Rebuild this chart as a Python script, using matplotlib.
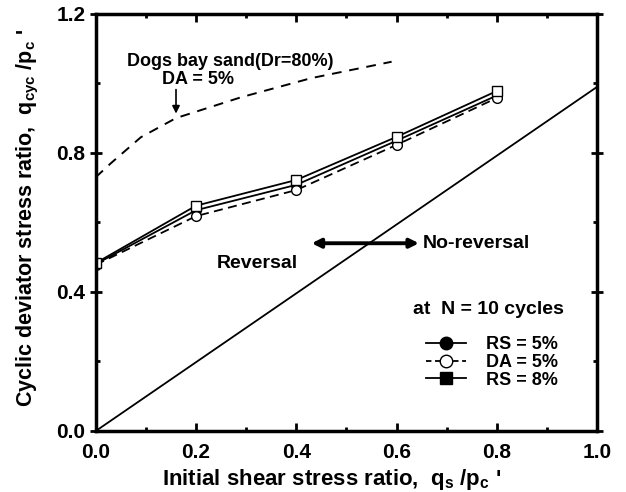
import matplotlib.pyplot as plt
from matplotlib.lines import Line2D

plt.rcParams.update({
    "font.family": ["Liberation Sans", "DejaVu Sans"],
    "font.weight": "bold",
    "mathtext.fontset": "custom",
    "mathtext.rm": "Liberation Sans:bold",
    "mathtext.it": "Liberation Sans:bold",
    "mathtext.bf": "Liberation Sans:bold",
})

# ── data ────────────────────────────────────────────────
qs = [0.0, 0.2, 0.4, 0.6, 0.8]
rs5 = [0.48, 0.635, 0.708, 0.835, 0.965]
da5 = [0.478, 0.618, 0.693, 0.823, 0.958]
rs8 = [0.483, 0.648, 0.722, 0.846, 0.978]

dogs_x = [0.0, 0.03, 0.09, 0.16, 0.29, 0.43, 0.59]
dogs_y = [0.73, 0.77, 0.845, 0.90, 0.96, 1.015, 1.062]

diag_x = [0.0, 1.0]
diag_y = [0.0, 0.99]

fig = plt.figure(figsize=(6.26, 4.92), dpi=100)
ax = fig.add_axes([0.153, 0.124, 0.801, 0.848])

ax.plot(diag_x, diag_y, color="black", lw=1.3)
ax.plot(dogs_x, dogs_y, color="black", lw=1.4, ls=(0, (5, 4)))

ax.plot(qs, rs5, color="black", lw=1.3, marker="o", ms=7, mfc="black", mec="black")
ax.plot(qs, da5, color="black", lw=1.3, ls=(0, (5, 3)), marker="o", ms=7, mfc="white", mec="black")
ax.plot(qs, rs8, color="black", lw=1.3, marker="s", ms=7, mfc="white", mec="black")

ax.set_xlim(0, 1.0)
ax.set_ylim(0, 1.2)
ax.set_xticks([0.0, 0.2, 0.4, 0.6, 0.8, 1.0])
ax.set_yticks([0.0, 0.4, 0.8, 1.2])
ax.set_xticks([0.1, 0.3, 0.5, 0.7, 0.9], minor=True)
ax.set_yticks([0.2, 0.6, 1.0], minor=True)
ax.tick_params(which="both", direction="in", top=True, right=True, width=2, labelsize=15)
ax.tick_params(which="major", length=6)
ax.tick_params(which="minor", length=3)
ax.tick_params(axis="y", which="major", direction="inout", length=8)
ax.tick_params(axis="x", which="major", pad=9)
for s in ax.spines.values():
    s.set_linewidth(2.5)

ax.set_xlabel(r"Initial shear stress ratio,  q$_\mathregular{s}$ /p$_\mathregular{c}$ '",
              fontsize=16, fontweight="bold")
ax.xaxis.set_label_coords(0.47, -0.086)
ax.set_ylabel(r"Cyclic deviator stress ratio,  q$_\mathregular{cyc}$ /p$_\mathregular{c}$ '",
              fontsize=15.5, fontweight="bold")
ax.yaxis.set_label_coords(-0.11, 0.51)

# annotations
ax.text(0.062, 1.062, "Dogs bay sand(Dr=80%)", fontsize=13, fontweight="bold", va="center")
ax.text(0.133, 1.012, "DA = 5%", fontsize=13, fontweight="bold", va="center")
ax.annotate("", xy=(0.16, 0.905), xytext=(0.16, 0.99),
            arrowprops=dict(arrowstyle="-|>", color="black", lw=1.2, mutation_scale=11))
ax.annotate("", xy=(0.425, 0.54), xytext=(0.65, 0.54),
            arrowprops=dict(arrowstyle="<|-|>", color="black", lw=2.8, mutation_scale=13))
ax.text(0.242, 0.482, "Reversal", fontsize=14, fontweight="bold", va="center")
ax.text(0.652, 0.54, "No-reversal", fontsize=14, fontweight="bold", va="center")
ax.text(0.632, 0.35, "at  N = 10 cycles", fontsize=14, fontweight="bold", va="center")

handles = [
    Line2D([], [], color="black", lw=1.3, marker="o", ms=9, mfc="black"),
    Line2D([], [], color="black", lw=1.3, ls=(0, (3, 2)), marker="o", ms=9, mfc="white"),
    Line2D([], [], color="black", lw=1.3, marker="s", ms=9, mfc="black"),
]
ax.legend(handles, ["RS = 5%", "DA = 5%", "RS = 8%"], loc="upper left",
          bbox_to_anchor=(0.645, 0.245), frameon=False, fontsize=13,
          handlelength=2.2, handletextpad=1.1, labelspacing=0.05,
          borderaxespad=0)

fig.savefig("out.png", dpi=100)
